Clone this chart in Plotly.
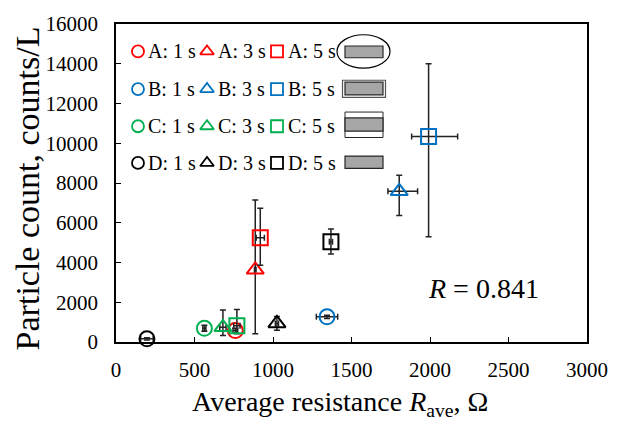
import plotly.graph_objects as go

# ---------------- data ----------------
series_names = ["A: 1 s", "A: 3 s", "A: 5 s",
                "B: 1 s", "B: 3 s", "B: 5 s",
                "C: 1 s", "C: 3 s", "C: 5 s",
                "D: 1 s", "D: 3 s", "D: 5 s"]
resistance = [760, 887, 919,
              1344, 1804, 1991,
              563, 681, 770,
              197, 1025, 1369]
particles = [575, 3630, 5250,
             1265, 7580, 10340,
             690, 740, 820,
             160, 935, 5040]
y_err_plus = [120, 3510, 1480,
              80, 810, 3660,
              150, 870, 820,
              60, 350, 650]
y_err_minus = [120, 3220, 1390,
               80, 1210, 5050,
               150, 410, 410,
               60, 350, 610]
x_err_plus = [15, 5, 26,
              68, 117, 185,
              10, 20, 20,
              40, 10, 10]
x_err_minus = [15, 5, 26,
               68, 72, 108,
               10, 20, 20,
               40, 10, 10]
x_ticks = [0, 500, 1000, 1500, 2000, 2500, 3000]
y_ticks = [0, 2000, 4000, 6000, 8000, 10000, 12000, 14000, 16000]
r_text = "<i>R</i> = 0.841"

group_colors = {"A": "#FF0000", "B": "#0070C0", "C": "#00B050", "D": "#000000"}
dur_symbols = {"1 s": "circle-open", "3 s": "triangle-up-open", "5 s": "square-open"}

FONT = "Liberation Serif, Times New Roman, serif"

# plot area in pixels
W, H = 638, 421
L, R, T, B = 116, 51, 17, 79
PW, PH = W - L - R, H - T - B

fig = go.Figure()

for i, name in enumerate(series_names):
    g, d = name.split(": ")
    fig.add_trace(go.Scatter(
        x=[resistance[i]], y=[particles[i]],
        mode="markers",
        marker=dict(symbol=dur_symbols[d], size=15, color=group_colors[g],
                    line=dict(width=2, color=group_colors[g])),
        error_y=dict(type="data", symmetric=False, array=[y_err_plus[i]],
                     arrayminus=[y_err_minus[i]], color="#222222", thickness=1.5, width=3),
        error_x=dict(type="data", symmetric=False, array=[x_err_plus[i]],
                     arrayminus=[x_err_minus[i]], color="#222222", thickness=1.5, width=3),
        showlegend=False, name=name, cliponaxis=False,
    ))

# ---------------- custom legend (overlay axes in pixel units) ----------------
row_y = [45, 83.5, 121.5, 159]
marker_x = [138, 207, 277]
text_x = [146, 216, 286]
for r_i, g in enumerate("ABCD"):
    for c_i, d in enumerate(["1 s", "3 s", "5 s"]):
        fig.add_trace(go.Scatter(
            x=[marker_x[c_i] - L], y=[row_y[r_i] - T], xaxis="x2", yaxis="y2",
            mode="markers", hoverinfo="skip", showlegend=False,
            marker=dict(symbol=dur_symbols[d], size=12, color=group_colors[g],
                        line=dict(width=1.8, color=group_colors[g])),
        ))
        fig.add_annotation(x=text_x[c_i] - L, y=row_y[r_i] - T, xref="x2", yref="y2",
                           text=f"{g}: {d}", showarrow=False, xanchor="left", yanchor="middle",
                           font=dict(family=FONT, size=20, color="black"))

gray = "#A6A6A6"
edge = "#262626"
def rect(x0, y0, x1, y1, fill=gray, lw=1.2, color=edge):
    fig.add_shape(type="rect", xref="x2", yref="y2", x0=x0 - L, x1=x1 - L, y0=y0 - T, y1=y1 - T,
                  fillcolor=fill, line=dict(color=color, width=lw), layer="above")

# row 1: gray box in an ellipse
fig.add_shape(type="circle", xref="x2", yref="y2", x0=337 - L, x1=390 - L, y0=28 - T, y1=62 - T,
              line=dict(color="black", width=1.2), fillcolor="rgba(0,0,0,0)")
rect(345, 39.5, 383, 51.5)
# row 2: double border
rect(342.5, 74.5, 385.5, 92, fill="white", lw=1.2, color="#555555")
rect(345, 76.5, 383, 89.5)
# row 3: white band above and below
rect(345, 107, 383, 133, fill="white", lw=1.0)
rect(345, 113, 383, 126.5)
# row 4: plain gray box
rect(345, 152, 383, 164.5)

# ---------------- annotations ----------------
fig.add_annotation(x=426 - L, y=287 - T, xref="x2", yref="y2", text=r_text, showarrow=False,
                   xanchor="left", yanchor="middle", font=dict(family=FONT, size=28, color="black"))

# axis titles
fig.add_annotation(x=(27 - L) / PW, y=(H - B - 185) / PH, xref="paper", yref="paper",
                   text="Particle count, counts/L", textangle=-90, showarrow=False,
                   xanchor="center", yanchor="middle", font=dict(family=FONT, size=34, color="black"))
fig.add_annotation(x=(340 - L) / PW, y=(H - B - 405) / PH, xref="paper", yref="paper",
                   text="Average resistance <i>R</i><sub>ave</sub>, Ω", showarrow=False,
                   xanchor="center", yanchor="middle", font=dict(family=FONT, size=28, color="black"))

axis_common = dict(showline=True, linecolor="black", linewidth=1.5, mirror=True,
                   ticks="inside", ticklen=5, tickwidth=1.2, tickcolor="black",
                   showgrid=False, zeroline=False, tickformat="d",
                   tickfont=dict(family=FONT, size=21, color="black"))

fig.update_layout(
    width=W, height=H,
    margin=dict(l=L, r=R, t=T, b=B),
    paper_bgcolor="white", plot_bgcolor="white",
    xaxis=dict(range=[0, 3000], tickmode="array", tickvals=x_ticks,
               ticktext=[str(v) for v in x_ticks], ticklabelstandoff=8, **axis_common),
    yaxis=dict(range=[0, 16000], tickmode="array", tickvals=y_ticks,
               ticktext=[str(v) for v in y_ticks], ticklabelstandoff=12, **axis_common),
    xaxis2=dict(overlaying="x", range=[0, PW], visible=False, fixedrange=True),
    yaxis2=dict(overlaying="y", range=[PH, 0], visible=False, fixedrange=True),
    font=dict(family=FONT, color="black"),
)

fig.write_html("out.html")
